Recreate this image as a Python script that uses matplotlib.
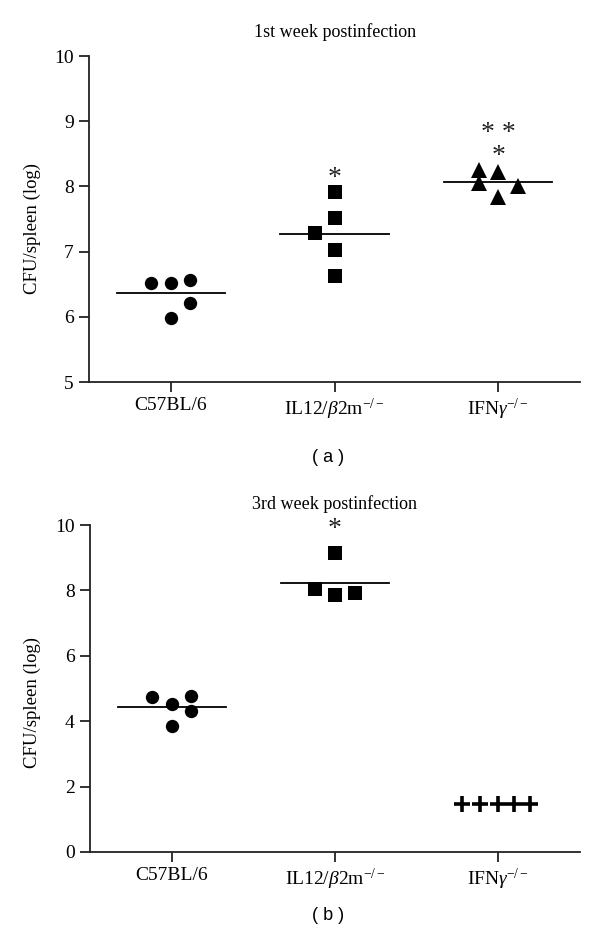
import numpy as np
import matplotlib
matplotlib.use("Agg")
import matplotlib.pyplot as plt

plt.rcParams['font.family'] = ['Liberation Serif', 'DejaVu Serif']
plt.rcParams['mathtext.fontset'] = 'custom'
plt.rcParams['mathtext.rm'] = 'Liberation Serif'
plt.rcParams['mathtext.it'] = 'Liberation Serif:italic'

categories = ["C57BL/6", r"IL12/$\it{\beta}$2m$^{-/-}$", r"IFN$\it{\gamma}$$^{-/-}$"]

# Week 1 (panel a)
w1_c57_dx = [-0.12, 0.0, 0.12, 0.0, 0.12]
w1_c57 = [6.52, 6.52, 6.56, 5.98, 6.21]
w1_il12_dx = [0.0, 0.0, -0.12, 0.0, 0.0]
w1_il12 = [7.91, 7.52, 7.29, 7.02, 6.63]
w1_ifn_dx = [-0.12, 0.0, -0.12, 0.12, 0.0]
w1_ifn = [8.25, 8.22, 8.05, 8.00, 7.84]

# Week 3 (panel b)
w3_c57_dx = [-0.12, 0.12, 0.0, 0.12, 0.0]
w3_c57 = [4.74, 4.77, 4.53, 4.31, 3.85]
w3_il12_dx = [0.0, -0.12, 0.0, 0.12]
w3_il12 = [9.14, 8.04, 7.86, 7.92]
w3_ifn_dx = [-0.22, -0.115, 0.0, 0.095, 0.195]
w3_ifn = [1.47, 1.47, 1.47, 1.47, 1.47]

fig = plt.figure(figsize=(6.0, 9.43), dpi=100)
W, H = 600.0, 943.0

def add_axes(left, top, right, bottom):
    return fig.add_axes([left / W, 1 - bottom / H, (right - left) / W, (bottom - top) / H])

ax1 = add_axes(89, 56, 580, 382)
ax2 = add_axes(90, 525, 580, 852)

def style(ax, ylim, yticks):
    ax.set_xlim(-0.5, 2.5)
    ax.set_ylim(*ylim)
    ax.set_yticks(yticks)
    ax.set_xticks([0, 1, 2])
    ax.set_xticklabels(categories)
    for s in ['top', 'right']:
        ax.spines[s].set_visible(False)
    for s in ['left', 'bottom']:
        ax.spines[s].set_linewidth(1.3)
        ax.spines[s].set_color('#222222')
    ax.tick_params(axis='both', direction='out', length=7, width=1.3, color='#222222',
                   labelsize=14)
    ax.tick_params(axis='x', pad=4)
    ax.tick_params(axis='y', pad=4)

def group(ax, x0, dx, vals, marker, ms, mew=0.0, mean=True):
    xs = [x0 + d for d in dx]
    if marker == '+':
        ax.plot(xs, vals, linestyle='none', marker='+', ms=ms, mew=mew, color='black', clip_on=False)
    else:
        ax.plot(xs, vals, linestyle='none', marker=marker, ms=ms, color='black', mec='black',
                mew=0, clip_on=False, zorder=3)
    if mean:
        m = np.mean(vals)
        ax.plot([x0 - 0.33, x0 + 0.33], [m, m], color='black', lw=1.3, zorder=2)

star_kw = dict(ha='center', va='center', fontsize=20, color='#222222', clip_on=False)

# panel a
style(ax1, (5, 10), [5, 6, 7, 8, 9, 10])
group(ax1, 0, w1_c57_dx, w1_c57, 'o', 9.6)
group(ax1, 1, w1_il12_dx, w1_il12, 's', 10.3)
group(ax1, 2, w1_ifn_dx, w1_ifn, '^', 11)
ax1.text(1, 8.12, '*', **star_kw)
ax1.text(2, 8.46, '*', **star_kw)
ax1.text(2, 8.81, '* *', **star_kw)

# panel b
style(ax2, (0, 10), [0, 2, 4, 6, 8, 10])
group(ax2, 0, w3_c57_dx, w3_c57, 'o', 9.6)
group(ax2, 1, w3_il12_dx, w3_il12, 's', 10.3)
group(ax2, 2, w3_ifn_dx, w3_ifn, '+', 11, mew=2.6, mean=False)
ax2.text(1, 9.86, '*', **star_kw)

# titles
fig.text(335 / W, 1 - 32 / H, '1st week postinfection', ha='center', va='center', fontsize=13)
fig.text(335 / W, 1 - 504 / H, '3rd week postinfection', ha='center', va='center', fontsize=13)

# y labels
fig.text(32 / W, 1 - 228 / H, 'CFU/spleen (log)', rotation=90, ha='center', va='center', fontsize=13.5)
fig.text(32 / W, 1 - 702 / H, 'CFU/spleen (log)', rotation=90, ha='center', va='center', fontsize=13.5)

# panel labels
fig.text(328 / W, 1 - 457 / H, '( a )', ha='center', va='center', fontsize=13,
         family=['Liberation Sans', 'DejaVu Sans'])
fig.text(328 / W, 1 - 915 / H, '( b )', ha='center', va='center', fontsize=13,
         family=['Liberation Sans', 'DejaVu Sans'])

fig.savefig('out.png', dpi=100)
